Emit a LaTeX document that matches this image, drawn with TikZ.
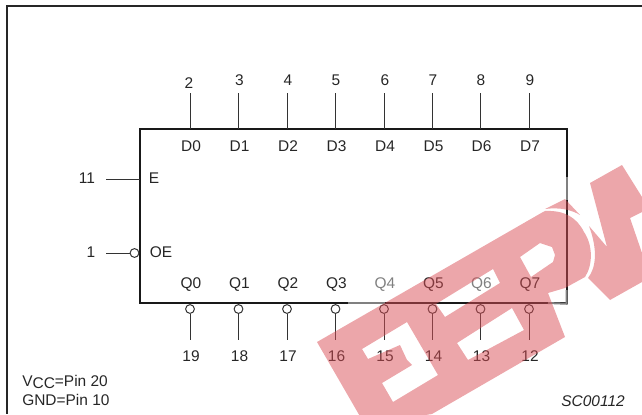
\documentclass[tikz,border=0pt]{standalone}
\usepackage{fontspec}
\setmainfont{Liberation Sans}
\definecolor{wm}{RGB}{217,77,85}
\tikzset{
  x=0.75pt,y=-0.75pt,
  lbl/.style={inner sep=0pt,font=\fontsize{11.6}{13}\selectfont,text=black!85},
  box/.style={draw=black!90,line width=1.5pt,line join=miter},
  fade/.style={draw=black!50,line width=1.5pt},
  pin/.style={draw=black!80,line width=0.75pt},
  bub/.style={circle,draw=black!80,fill=white,line width=0.75pt,minimum size=6.6pt,inner sep=0pt},
  stamp/.style={fill=wm,fill opacity=0.5,draw=none,even odd rule},
}
\begin{document}
\begin{tikzpicture}
\useasboundingbox (0,0) rectangle (642,414);
% frame
\draw[black!85,line width=1.5pt] (642,5.5) -- (7,5.5) -- (7,414);
% box
\draw[box] (139.5,128.5) rectangle (566.5,303);
\draw[fade] (566.5,177) -- (566.5,200);
\draw[fade] (566.5,290) -- (566.5,303.75) -- (548,303);
\draw[fade] (348,303) -- (385,303);
% pins top
\foreach \n/\x/\p/\lx/\ly in {0/190/2/189/83,1/238.5/3/239.5/80,2/287/4/288/80,3/335.5/5/336/80,4/384/6/385/80,5/432.5/7/433/80,6/480.5/8/481/80,7/529/9/530/80}{
  \coordinate (dt\n) at (\x,128.5);
  \coordinate (de\n) at (\x,93);
  \draw[pin] (dt\n) -- (de\n);
  \node[lbl] (pt\n) at (\lx,\ly) {\p};
  \node[lbl] (dl\n) at (\x+1,146) {D\n};
}
% pins bottom
\foreach \n/\x/\p in {0/190/19,1/238.5/18,2/287/17,3/335.5/16,4/384/15,5/432.5/14,6/480.5/13,7/529/12}{
  \node[bub] (bb\n) at (\x,309) {};
  \coordinate (qe\n) at (\x,339.5);
  \draw[pin] (bb\n) -- (qe\n);
  \node[lbl] (pq\n) at (\x+1,356.5) {\p};
}
\foreach \n/\x/\c in {0/190/85,1/238.5/85,2/287/85,3/335.5/85,4/384/50,5/432.5/85,6/480.5/50,7/529/85}{
  \node[lbl,text=black!\c] (ql\n) at (\x+1,285) {Q\n};
}
% E and OE
\coordinate (ee) at (106,179);
\coordinate (et) at (139.5,179);
\draw[pin] (ee) -- (et);
\node[lbl] (e11) at (87,178.5) {11};
\node[lbl] (el) at (154,178.5) {E};
\coordinate (oe) at (106,253);
\node[bub] (ob) at (134.5,253) {};
\draw[pin] (oe) -- (ob);
\node[lbl] (e1) at (91,252) {1};
\node[lbl] (ol) at (161,252) {OE};
% notes
\node[lbl,anchor=west] (vcc) at (22,382) {V\raisebox{-0.3ex}{CC}=Pin 20};
\node[lbl,anchor=west] (gnd) at (22,399.5) {GND=Pin 10};
\node[lbl,anchor=east,font=\fontsize{11.6}{13}\itshape\selectfont] (sc) at (625,401) {SC00112};
% watermark
\begin{scope}
\clip (0,0) rectangle (642,414);
\path[stamp]
  (317,342) -- (365,425) -- (432,414) -- (565,337) -- (548,293) -- (565,288) -- (585,277)
  .. controls (593,265) and (593,245) .. (584,232)
  .. controls (577,218) and (565,210) .. (545,211) -- (543,212) -- cycle
  (520,257) -- (540,243) -- (552,247) -- (555,255) -- (553,262) -- (531,277) -- cycle
  (436,304) -- (493,269) -- (500,283) -- (445,317) -- cycle
  (457,343) -- (512,308) -- (524,330) -- (468,360) -- cycle
  (362,349) -- (407,322) -- (438,375) -- (393,402) -- (382,383) -- (412,365) -- (407,360) -- (400,345) -- (368,359) -- cycle;
\path[stamp] (545,209) -- (565,199) -- (580,215) .. controls (572,210) and (560,207) .. (545,209) -- cycle;
\path[stamp] (590,183) -- (622,165) -- (642,197) -- (642,212) -- (630,218) -- (642,253) -- (642,282) -- (610,300) -- (588,278)
  .. controls (596,268) and (598,250) .. (589,226) -- (607,247) -- cycle;
\end{scope}
\end{tikzpicture}
\end{document}
